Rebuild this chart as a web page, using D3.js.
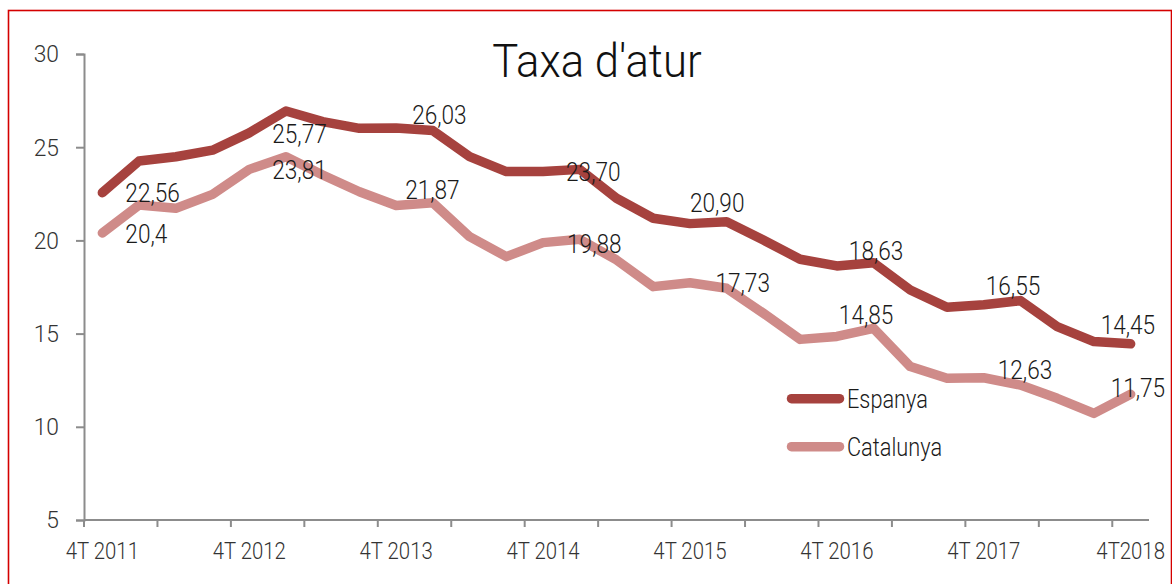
<!DOCTYPE html>
<html>
<head>
<meta charset="utf-8">
<script src="https://cdn.jsdelivr.net/npm/d3@7/dist/d3.min.js"></script>
<style>
  html, body { margin: 0; padding: 0; background: #fff; }
  svg { display: block; font-family: Roboto, "Noto Sans", sans-serif; font-weight: 300; }
</style>
</head>
<body>
<svg id="chart" width="1172" height="584"></svg>
<script>
// ---- data ----
const categories = [
  "4T 2011","1T 2012","2T 2012","3T 2012","4T 2012","1T 2013","2T 2013","3T 2013",
  "4T 2013","1T 2014","2T 2014","3T 2014","4T 2014","1T 2015","2T 2015","3T 2015",
  "4T 2015","1T 2016","2T 2016","3T 2016","4T 2016","1T 2017","2T 2017","3T 2017",
  "4T 2017","1T 2018","2T 2018","3T 2018","4T 2018"
];
const tickLabels = ["4T 2011","4T 2012","4T 2013","4T 2014","4T 2015","4T 2016","4T 2017","4T2018"];
const espanya = [22.56, 24.26, 24.49, 24.84, 25.77, 26.94, 26.37, 26.01, 26.03, 25.89, 24.49, 23.69, 23.70, 23.81, 22.26, 21.19,
                 20.90, 21.00, 20.02, 18.99, 18.63, 18.80, 17.34, 16.41, 16.55, 16.77, 15.37, 14.57, 14.45];
const catalunya = [20.40, 21.90, 21.72, 22.47, 23.81, 24.49, 23.51, 22.61, 21.87, 22.02, 20.20, 19.13, 19.88, 20.06, 18.95, 17.52,
                   17.73, 17.43, 16.09, 14.69, 14.85, 15.28, 13.23, 12.60, 12.63, 12.24, 11.53, 10.72, 11.75];
const labelIndex = [0, 4, 8, 12, 16, 20, 24, 28];
const espanyaLabels = ["22,56","25,77","26,03","23,70","20,90","18,63","16,55","14,45"];
const catalunyaLabels = ["20,4","23,81","21,87","19,88","17,73","14,85","12,63","11,75"];
const yTicks = [5, 10, 15, 20, 25, 30];
const seriesNames = ["Espanya", "Catalunya"];

// ---- layout / style (not data) ----
const colors = { Espanya: "#A6423E", Catalunya: "#CF8B89" };
const espOffsets = [[23,0],[23,1],[16,-13],[23,0],[0,-21],[12,-15],[2,-19],[-30,-18.6]];
const catOffsets = [[23,0.5],[23,0],[9,-15.5],[24,1.5],[25.5,0],[2,-22],[14,-8.3],[-20,-6.7]];

const svg = d3.select("#chart");

// border
svg.append("rect").attr("x", 8.5).attr("y", 10.5).attr("width", 1163).attr("height", 620)
  .attr("fill", "none").attr("stroke", "#D40000").attr("stroke-width", 1.6);

const x = d3.scaleBand().domain(categories).range([84, 1149]).padding(0);
const y = d3.scaleLinear().domain([5, 30]).range([520, 54]);
const cx = c => x(c) + x.bandwidth() / 2;

function sText(g, tx, ty, str, size, sx, anchor, fill) {
  return g.append("text")
    .attr("transform", `translate(${tx},${ty}) scale(${sx},1)`)
    .attr("text-anchor", anchor)
    .attr("font-size", size)
    .attr("fill", fill)
    .text(str);
}

// title
sText(svg, 597, 77, "Taxa d'atur", 46, 0.95, "middle", "#111");

// y axis
const axisColor = "#8C8C8C";
const yAxis = svg.append("g").attr("transform", "translate(84,0)")
  .call(d3.axisLeft(y).tickValues(yTicks).tickSize(8).tickFormat(""));
yAxis.select(".domain").attr("stroke", axisColor).attr("stroke-width", 2);
yAxis.selectAll(".tick line").attr("stroke", axisColor).attr("stroke-width", 2);
yTicks.forEach(v => sText(svg, 59, y(v) + 8.3, String(v), 23.5, 0.97, "end", "#333"));

// x axis
const xTickCats = categories.filter((c, i) => i % 2 === 0);
const xAxis = svg.append("g").attr("transform", "translate(0,520)")
  .call(d3.axisBottom(x).tickValues(xTickCats).tickSize(7).tickSizeOuter(0).tickFormat("").offset(0));
xAxis.select(".domain").attr("stroke", axisColor).attr("stroke-width", 2);
xAxis.selectAll(".tick").attr("transform", d => `translate(${x(d)},0)`);
xAxis.selectAll(".tick line").attr("stroke", axisColor).attr("stroke-width", 2);
tickLabels.forEach((t, k) => {
  const c = categories[k * 4];
  sText(svg, cx(c), 558.5, t, 23.4, 0.87, "middle", "#333");
});

// lines
const line = d3.line().x((d, i) => cx(categories[i])).y(d => y(d));
[["Catalunya", catalunya], ["Espanya", espanya]].forEach(([name, vals]) => {
  svg.append("path").datum(vals).attr("d", line)
    .attr("fill", "none").attr("stroke", colors[name]).attr("stroke-width", 9.5)
    .attr("stroke-linejoin", "round").attr("stroke-linecap", "round");
});

// data labels
function labels(vals, texts, offs) {
  labelIndex.forEach((idx, k) => {
    const px = cx(categories[idx]), py = y(vals[idx]);
    sText(svg, px + offs[k][0], py + offs[k][1] + 9.2, texts[k], 26, 0.87, "start", "#1a1a1a");
  });
}
labels(espanya, espanyaLabels, espOffsets);
labels(catalunya, catalunyaLabels, catOffsets);

// legend
const legendY = [398.7, 446.7];
seriesNames.forEach((name, i) => {
  svg.append("line").attr("x1", 791.5).attr("x2", 839.5).attr("y1", legendY[i]).attr("y2", legendY[i])
    .attr("stroke", colors[name]).attr("stroke-width", 9.5).attr("stroke-linecap", "round");
  sText(svg, 847, legendY[i] + 8.8, name, 25, 0.87, "start", "#1a1a1a");
});
</script>
</body>
</html>
